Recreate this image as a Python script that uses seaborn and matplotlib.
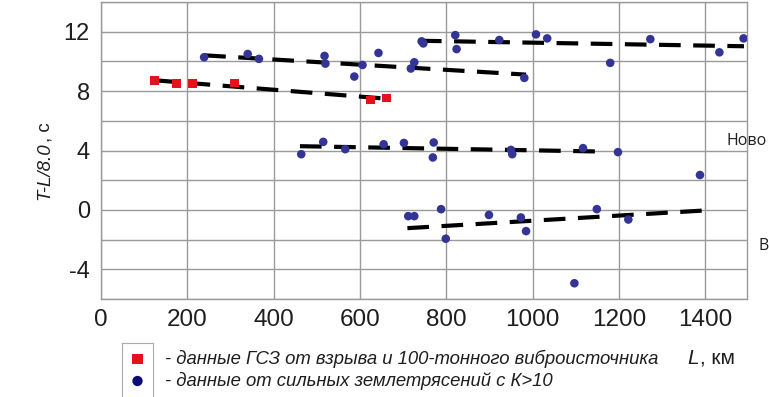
import numpy as np
import pandas as pd
import matplotlib
matplotlib.use("Agg")
import matplotlib.pyplot as plt
from matplotlib.ticker import MultipleLocator
import seaborn as sns

# ---- data ----
red_L = [124, 175, 212, 310, 624, 661]
red_T = [8.71, 8.51, 8.51, 8.56, 7.39, 7.53]

blue_L = [239, 340, 366, 518, 520, 587, 606, 643, 718, 726, 981,          # upper-left band
          743, 747, 821, 824, 923, 1008, 1034, 1180, 1273, 1433, 1489,   # top band
          464, 515, 566, 655, 702, 771, 769, 950, 953, 1117, 1198,       # middle band
          712, 726, 788, 799, 899, 973, 985, 1097, 1149, 1222, 1388]     # bottom band
blue_T = [10.28, 10.50, 10.17, 10.37, 9.85, 8.98, 9.76, 10.57, 9.52, 9.94, 8.89,
          11.35, 11.21, 11.77, 10.83, 11.44, 11.82, 11.55, 9.90, 11.50, 10.61, 11.55,
          3.75, 4.58, 4.09, 4.42, 4.51, 4.54, 3.53, 4.04, 3.75, 4.16, 3.89,
          -0.42, -0.42, 0.05, -1.94, -0.34, -0.51, -1.43, -4.94, 0.05, -0.65, 2.35]

trend_names = ["red", "upper", "top", "middle", "bottom"]
trend_L = [[124, 661], [239, 985], [739, 1490], [461, 1160], [710, 1392]]
trend_T = [[8.73, 7.49], [10.41, 9.11], [11.39, 11.02], [4.29, 3.93], [-1.23, -0.05]]

x_ticks = [0, 200, 400, 600, 800, 1000, 1200, 1400]
y_ticks = [-4, 0, 4, 8, 12]

legend_labels = ["- данные ГСЗ от взрыва и 100-тонного виброисточника",
                 "- данные от сильных землетрясений с К>10"]

# ---- style ----
sns.set_style("white")
plt.rcParams['font.family'] = ['Liberation Sans', 'DejaVu Sans']
plt.rcParams['axes.unicode_minus'] = False

fig = plt.figure(figsize=(7.69, 3.97), dpi=100)
ax = fig.add_axes([101/769, 1 - 299/397, (747-101)/769, (299-2)/397])

grid_c = "#9a9a9a"
txt_c = "#1e1e1e"

# trend lines
tr = pd.DataFrame({
    "L": sum(trend_L, []),
    "T": sum(trend_T, []),
    "g": sum([[n, n] for n in trend_names], []),
})
for n in trend_names:
    sub = tr[tr.g == n]
    sns.lineplot(data=sub, x="L", y="T", ax=ax, color="black", lw=3.0,
                 zorder=3, legend=False)
for l in ax.lines:
    l.set_dashes((5.2, 3.0))
    l.set_dash_capstyle("butt")

blue = pd.DataFrame({"L": blue_L, "T": blue_T})
red = pd.DataFrame({"L": red_L, "T": red_T})
sns.scatterplot(data=blue, x="L", y="T", ax=ax, color="#343496", marker="o",
                s=38, edgecolor="none", zorder=4, legend=False)
sns.scatterplot(data=red, x="L", y="T", ax=ax, color="#e3131b", marker="s",
                s=38, edgecolor="none", zorder=4, legend=False)

ax.set_xlim(0, 1497)
ax.set_ylim(-6, 14)
ax.set_xticks(x_ticks)
ax.set_yticks(y_ticks)
ax.yaxis.set_minor_locator(MultipleLocator(2))
ax.grid(True, which="both", color=grid_c, lw=1.0)
ax.set_axisbelow(True)
for s in ax.spines.values():
    s.set_color(grid_c)
    s.set_linewidth(1.0)
ax.tick_params(axis="both", which="both", length=5, width=1.0, color=grid_c,
               direction="out", labelcolor=txt_c)
ax.tick_params(axis="y", labelsize=17, pad=3)
ax.tick_params(axis="x", labelsize=17.5, pad=2)
ax.set_xlabel("")
ax.set_ylabel("")

# y label: italic part + regular part, placed contiguously
fig.canvas.draw()
r = fig.canvas.get_renderer()
yl1 = fig.text(45/769, 1 - 200/397, "T-L/8.0", rotation=90, ha="center", va="bottom",
               fontsize=13.5, style="italic", color=txt_c)
bb = yl1.get_window_extent(renderer=r)
yl2 = fig.text(45/769, (bb.y1 + 0.5) / fig.bbox.height, ", c", rotation=90,
               ha="center", va="bottom", fontsize=13.5, color=txt_c)

# x label "L, км"
xl1 = fig.text(687/769, 1 - 358/397, "L", ha="left", va="center", fontsize=15,
               style="italic", color=txt_c)
bb2 = xl1.get_window_extent(renderer=r)
fig.text((bb2.x1 + 1) / fig.bbox.width, 1 - 358/397, ", км", ha="left", va="center",
         fontsize=15, color=txt_c)

# legend (box around markers only)
leg_ax = fig.add_axes([122/769, 0, (153-122)/769, (397-343)/397])
leg_ax.set_xlim(0, 1)
leg_ax.set_ylim(0, 54)
leg_ax.set_xticks([])
leg_ax.set_yticks([])
for s in ["left", "top", "right"]:
    leg_ax.spines[s].set_color("#aaaaaa")
leg_ax.spines["bottom"].set_visible(False)
sns.scatterplot(x=[0.5], y=[54 - 16], ax=leg_ax, color="#e8101a", marker="s",
                s=55, edgecolor="none", legend=False)
sns.scatterplot(x=[0.5], y=[54 - 38], ax=leg_ax, color="#0a0a78", marker="o",
                s=55, edgecolor="none", legend=False)
leg_ax.set_xlabel("")
leg_ax.set_ylabel("")

fig.text(165/769, 1 - 359/397, legend_labels[0], ha="left", va="center",
         fontsize=13.3, style="italic", color=txt_c)
fig.text(165/769, 1 - 381/397, legend_labels[1], ha="left", va="center",
         fontsize=13.3, style="italic", color=txt_c)

# stray page text
fig.text(727/769, 1 - 141/397, "Ново", ha="left", va="center", fontsize=11.5,
         family=["Open Sans", "DejaVu Sans"], color=txt_c)
fig.text(758/769, 1 - 246/397, "В", ha="left", va="center", fontsize=11.5,
         family=["Open Sans", "DejaVu Sans"], color=txt_c)

fig.savefig("out.png", dpi=100)
